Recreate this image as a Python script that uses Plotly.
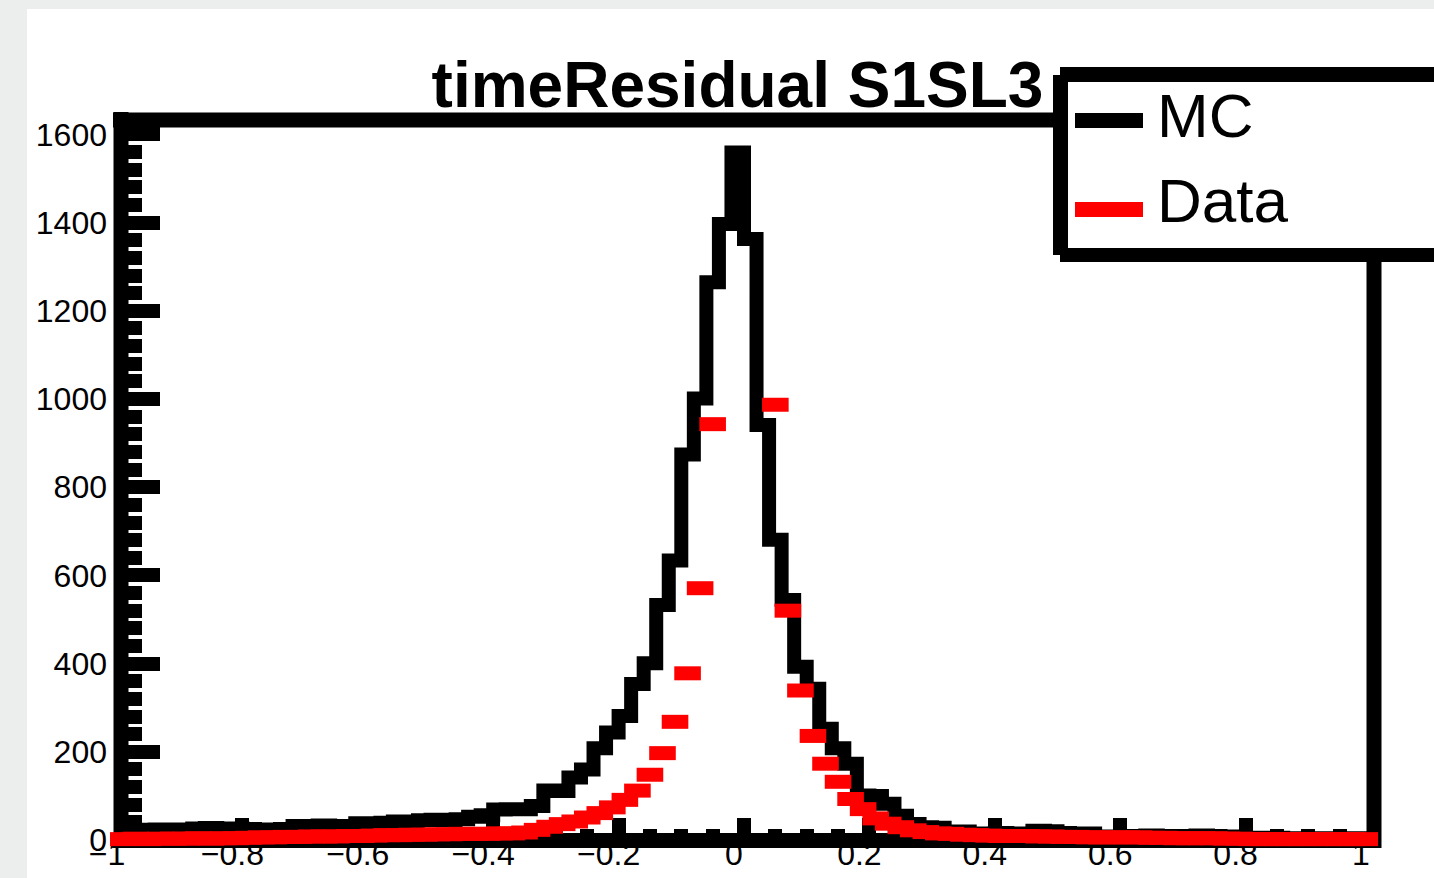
import plotly.graph_objects as go

# ---------------- data ----------------
x_min, x_max, n_bins = -1.0, 1.0, 100

mc_counts = [
    23, 23, 22, 24, 23, 24, 26, 27, 26, 26,
    25, 20, 24, 25, 32, 31, 33, 26, 32, 38,
    37, 39, 42, 41, 45, 46, 45, 47, 53, 56,
    69, 70, 70, 77, 112, 111, 142, 160, 208, 244,
    281, 354, 401, 533, 634, 874, 1001, 1265, 1397, 1559,
    1363, 941, 681, 544, 393, 343, 252, 208, 173, 101,
    100, 82, 55, 36, 29, 28, 19, 19, 15, 15,
    16, 15, 14, 21, 20, 16, 15, 15, 8, 8,
    9, 9, 10, 8, 9, 9, 10, 9, 8, 7,
    5, 4, 5, 4, 3, 4, 4, 3, 4, 4,
]

data_counts = [
    2, 3, 2, 3, 3, 3, 4, 3, 4, 4,
    5, 6, 6, 7, 7, 8, 8, 8, 9, 9,
    10, 11, 11, 12, 12, 13, 13, 14, 14, 14,
    15, 15, 17, 23, 30, 36, 42, 51, 61, 74,
    91, 112, 148, 197, 268, 378, 571, 943, 1720, 2150,
    2080, 1760, 987, 520, 339, 236, 173, 132, 93, 70,
    49, 37, 29, 22, 18, 15, 14, 12, 11, 10,
    9, 9, 9, 8, 8, 7, 7, 6, 6, 6,
    6, 6, 5, 5, 4, 4, 4, 4, 3, 3,
    2, 2, 2, 2, 2, 2, 2, 2, 2, 2,
]

title_text = "timeResidual S1SL3"
legend_labels = ["MC", "Data"]
y_max = 1635

bin_w = (x_max - x_min) / n_bins
edges = [x_min + i * bin_w for i in range(n_bins + 1)]
centers = [(edges[i] + edges[i + 1]) / 2 for i in range(n_bins)]

# ---------------- layout geometry ----------------
W, H = 1434, 878
ML, MR, MT, MB = 117, 63, 119, 38
PW, PH = W - ML - MR, H - MT - MB


def px_x(X):
    return (X - ML) / PW


def px_y(Y):
    return (H - MB - Y) / PH


FONT = "Liberation Sans, Arial, Helvetica, sans-serif"

fig = go.Figure()

# MC histogram (step outline)
fig.add_trace(go.Scatter(
    x=[edges[0]] + edges[:-1] + [edges[-1]],
    y=[0] + mc_counts + [0],
    mode="lines",
    line=dict(color="black", width=14, shape="hv"),
    name=legend_labels[0],
    showlegend=False,
    hoverinfo="skip",
))

# Data points with bin-width horizontal bars
fig.add_trace(go.Scatter(
    x=centers,
    y=data_counts,
    mode="markers",
    marker=dict(symbol="line-ew", size=19, color="red",
                line=dict(color="red", width=14)),
    cliponaxis=False,
    name=legend_labels[1],
    showlegend=False,
))

shapes = []
# white canvas on grey page
shapes.append(dict(type="rect", xref="paper", yref="paper",
                   x0=px_x(27), x1=px_x(W + 5), y0=px_y(9), y1=px_y(H + 5),
                   fillcolor="white", line=dict(width=0), layer="below"))
# frame (drawn below the traces)
FR_L, FR_R, FR_T, FR_B = 121, 1374, 120, 840.5
for (x0, y0, x1, y1) in [
    (FR_L, 112, FR_L, 848),
    (FR_R, 112, FR_R, 848),
    (113, FR_T, 1381, FR_T),
    (113, FR_B, 1381, FR_B),
]:
    shapes.append(dict(type="line", xref="paper", yref="paper",
                       x0=px_x(x0), x1=px_x(x1), y0=px_y(y0), y1=px_y(y1),
                       line=dict(color="black", width=15), layer="below"))


# legend box (above everything)
def rect(X0, Y0, X1, Y1, color):
    return dict(type="rect", xref="paper", yref="paper",
                x0=px_x(X0), x1=px_x(X1), y0=px_y(Y1), y1=px_y(Y0),
                fillcolor=color, line=dict(width=0), layer="above")


shapes += [
    rect(1060, 67, W + 10, 262, "white"),
    rect(1060, 67, W + 10, 82, "black"),
    rect(1060, 248, W + 10, 262, "black"),
    rect(1053, 75, 1068, 255, "black"),
    rect(1075, 113, 1143, 128, "black"),
    rect(1075, 202, 1143, 217, "red"),
]

annotations = [
    dict(text=legend_labels[0], xref="paper", yref="paper",
         x=px_x(1155), y=px_y(115), xanchor="left", yanchor="middle",
         showarrow=False, font=dict(family=FONT, size=62, color="black")),
    dict(text=legend_labels[1], xref="paper", yref="paper",
         x=px_x(1155), y=px_y(201), xanchor="left", yanchor="middle",
         showarrow=False, font=dict(family=FONT, size=62, color="black")),
]

fig.update_layout(
    width=W, height=H, autosize=False,
    margin=dict(l=ML, r=MR, t=MT, b=MB, pad=0),
    paper_bgcolor="#eceeed",
    plot_bgcolor="rgba(0,0,0,0)",
    showlegend=False,
    title=dict(text=title_text, x=737.5 / W, xanchor="center",
               y=1 - 84.5 / H, yanchor="middle", xref="container", yref="container",
               font=dict(family=FONT, size=64, color="black", weight="bold")),
    shapes=shapes,
    annotations=annotations,
    xaxis=dict(
        range=[x_min, x_max], showgrid=False, zeroline=False, showline=False,
        tickmode="linear", tick0=0, dtick=0.2,
        ticks="inside", ticklen=22, tickwidth=14, tickcolor="black",
        minor=dict(ticks="inside", tickmode="linear", tick0=0, dtick=0.05,
                   ticklen=11, tickwidth=14, tickcolor="black"),
        tickfont=dict(family=FONT, size=32, color="black"),
        ticklabelstandoff=-8, ticklabelshift=-10,
        layer="below traces", automargin=False, fixedrange=True,
    ),
    yaxis=dict(
        range=[0, y_max], showgrid=False, zeroline=False, showline=False,
        tickmode="linear", tick0=0, dtick=200,
        ticks="inside", ticklen=43, tickwidth=14, tickcolor="black",
        minor=dict(ticks="inside", tickmode="linear", tick0=0, dtick=40,
                   ticklen=25, tickwidth=14, tickcolor="black"),
        tickfont=dict(family=FONT, size=32, color="black"),
        ticklabelstandoff=9,
        layer="below traces", automargin=False, fixedrange=True,
    ),
)

fig.write_html("out.html")
